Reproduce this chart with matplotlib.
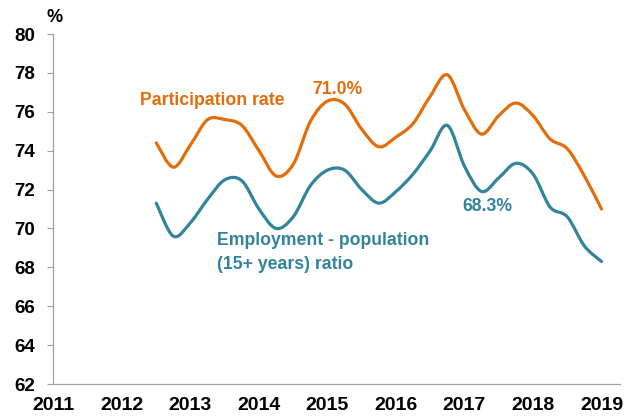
import numpy as np
import matplotlib
matplotlib.use("Agg")
from matplotlib import pyplot as plt
from matplotlib.path import Path
from matplotlib.patches import PathPatch

plt.rcParams["font.family"] = ["Liberation Sans", "DejaVu Sans"]
plt.rcParams["font.weight"] = "bold"

# quarterly observations, mid-2012 to 2019
quarters = np.arange(2012.5, 2019.01, 0.25)
participation = [74.4, 73.15, 74.3, 75.6, 75.6, 75.3, 74.0, 72.7, 73.3, 75.5, 76.55, 76.4, 75.1,
                 74.2, 74.7, 75.4, 76.8, 77.9, 76.1, 74.85, 75.8, 76.45, 75.8, 74.6, 74.1, 72.7, 71.0]
employment = [71.3, 69.6, 70.3, 71.5, 72.5, 72.45, 71.0, 70.0, 70.6, 72.2, 73.0, 73.0, 72.0,
              71.3, 71.9, 72.8, 74.0, 75.3, 73.2, 71.9, 72.6, 73.35, 72.8, 71.1, 70.6, 69.1, 68.3]
year_ticks = list(range(2011, 2020))
y_ticks = list(range(62, 81, 2))

ORANGE = "#E46C0A"
TEAL = "#31849B"


def smooth_path(x, y):
    """Catmull-Rom curve through the points, as bezier segments (like Excel's smoothed line)"""
    x = np.asarray(x, float)
    y = np.asarray(y, float)
    n = len(x)
    verts = [(x[0], y[0])]
    codes = [Path.MOVETO]
    for i in range(n - 1):
        p0 = max(i - 1, 0)
        p3 = min(i + 2, n - 1)
        c1 = (x[i] + (x[i + 1] - x[p0]) / 6, y[i] + (y[i + 1] - y[p0]) / 6)
        c2 = (x[i + 1] - (x[p3] - x[i]) / 6, y[i + 1] - (y[p3] - y[i]) / 6)
        verts += [c1, c2, (x[i + 1], y[i + 1])]
        codes += [Path.CURVE4] * 3
    return Path(verts, codes)


fig = plt.figure(figsize=(6.3, 4.19), dpi=100)
ax = fig.add_axes([53 / 630, 1 - 384 / 419, 567 / 630, 350 / 419])

for vals, col in [(participation, ORANGE), (employment, TEAL)]:
    ax.add_patch(PathPatch(smooth_path(quarters, vals), fill=False, edgecolor=col,
                           lw=2.3, capstyle="round", joinstyle="round"))

ax.set_xlim(2010.993, 2019.27)
ax.set_ylim(62, 80)
ax.set_xticks(year_ticks)
ax.set_yticks(y_ticks)
ax.tick_params(axis="x", length=0, pad=9, labelsize=14)
ax.tick_params(axis="y", length=4.5, width=0.8, color="#A0A0A0", pad=8.5, labelsize=13.5)
for lab in ax.get_xticklabels() + ax.get_yticklabels():
    lab.set_fontweight("bold")
for s in ["top", "right"]:
    ax.spines[s].set_visible(False)
for s in ["left", "bottom"]:
    ax.spines[s].set_color("#A0A0A0")
    ax.spines[s].set_linewidth(0.9)

fig.text(55 / 630, 1 - 17.5 / 419, "%", ha="center", va="center", fontsize=13, fontweight="bold")

ax.text(2012.27, 76.6, "Participation rate", color=ORANGE, fontsize=12.7, fontweight="bold",
        ha="left", va="center")
ax.text(2015.15, 77.17, "71.0%", color=ORANGE, fontsize=12.7, fontweight="bold",
        ha="center", va="center")
ax.text(2013.38, 69.38, "Employment - population", color=TEAL, fontsize=12.7, fontweight="bold",
        ha="left", va="center")
ax.text(2013.38, 68.14, "(15+ years) ratio", color=TEAL, fontsize=12.7, fontweight="bold",
        ha="left", va="center")
ax.text(2017.33, 71.13, "68.3%", color=TEAL, fontsize=12.7, fontweight="bold",
        ha="center", va="center")

fig.savefig("out.png", dpi=100)
